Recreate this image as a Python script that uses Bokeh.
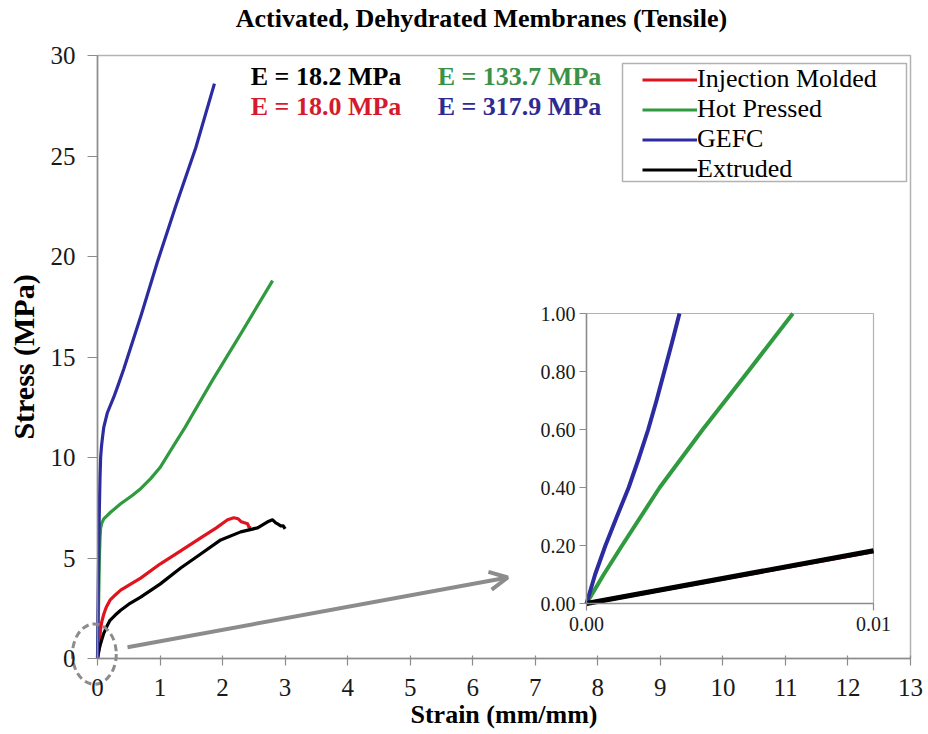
from bokeh.plotting import figure
from bokeh.models import (Range1d, LinearAxis, FixedTicker, NumeralTickFormatter, BoxAnnotation,
                          Label, Legend, LegendItem, Arrow, OpenHead)
from bokeh.embed import file_html
from bokeh.resources import INLINE

# ---------------- data ----------------
x_ticks = list(range(0, 14))
y_ticks = [0, 5, 10, 15, 20, 25, 30]
inset_x_ticks = [0.0, 0.01]
inset_y_ticks = [0.0, 0.2, 0.4, 0.6, 0.8, 1.0]

series_names = ["Injection Molded", "Hot Pressed", "GEFC", "Extruded"]

inj_x = [0, 0.01, 0.02, 0.03, 0.05, 0.07, 0.1, 0.14, 0.2, 0.28, 0.37, 0.69, 1.0, 1.33, 1.65, 1.9, 2.08, 2.18, 2.25, 2.3, 2.35, 2.4, 2.42, 2.45]
inj_y = [0, 0.2, 0.45, 0.8, 1.5, 1.85, 2.2, 2.55, 2.9, 3.15, 3.4, 4.0, 4.7, 5.35, 6.0, 6.5, 6.9, 7.0, 6.95, 6.8, 6.75, 6.7, 6.55, 6.5]

hot_x = [0, 0.005, 0.01, 0.02, 0.03, 0.04, 0.05, 0.07, 0.1, 0.15, 0.2, 0.37, 0.55, 0.69, 0.85, 1.0, 1.2, 1.4, 1.83, 2.3, 2.8]
hot_y = [0, 0.7, 1.4, 3.2, 5.0, 6.0, 6.5, 6.75, 6.95, 7.1, 7.25, 7.7, 8.1, 8.45, 8.95, 9.5, 10.5, 11.5, 13.8, 16.2, 18.8]

gefc_x = [0, 0.003, 0.006, 0.01, 0.02, 0.03, 0.04, 0.05, 0.065, 0.08, 0.1, 0.155, 0.2, 0.26, 0.33, 0.42, 0.7, 0.955, 1.25, 1.57, 1.87]
gefc_y = [0, 0.9, 1.9, 3.0, 5.5, 7.5, 9.0, 10.0, 10.6, 11.0, 11.5, 12.2, 12.55, 13.0, 13.6, 14.4, 17.1, 19.7, 22.5, 25.4, 28.6]

ext_x = [0, 0.01, 0.03, 0.05, 0.1, 0.15, 0.2, 0.28, 0.37, 0.5, 0.69, 1.0, 1.33, 1.65, 1.97, 2.29, 2.56, 2.72, 2.8, 2.85, 2.88, 2.93, 2.97, 3.0]
ext_y = [0, 0.18, 0.5, 0.75, 1.25, 1.6, 1.9, 2.15, 2.4, 2.7, 3.05, 3.7, 4.5, 5.2, 5.9, 6.3, 6.5, 6.8, 6.9, 6.75, 6.7, 6.6, 6.6, 6.45]

# inset (zoom on the origin)
inj_in_x = [0, 0.01]
inj_in_y = [0, 0.18]
hot_in_x = [0, 0.0006, 0.00124, 0.00255, 0.00405, 0.00563, 0.00719]
hot_in_y = [0, 0.1, 0.2, 0.4, 0.6, 0.8, 1.0]
gefc_in_x = [0, 0.0003, 0.00066, 0.00106, 0.00147, 0.00182, 0.00215, 0.00244, 0.00271, 0.00298, 0.00324]
gefc_in_y = [0, 0.1, 0.2, 0.3, 0.4, 0.5, 0.6, 0.7, 0.8, 0.9, 1.0]
ext_in_x = [0, 0.01]
ext_in_y = [0, 0.182]

modulus_texts = ["E =  18.2 MPa", "E =  18.0 MPa", "E =  133.7 MPa", "E =  317.9 MPa"]
modulus_x = [2.45, 2.45, 5.44, 5.44]
modulus_y = [28.95, 27.45, 28.95, 27.45]

ellipse_x, ellipse_y, ellipse_w, ellipse_h = [-0.05], [0.22], [0.70], [3.0]
arrow_start = (0.48, 0.56)
arrow_end = (6.56, 4.03)

title_text = "Activated, Dehydrated Membranes (Tensile)"

# ---------------- styles ----------------
RED, GREEN, BLUE, BLACK = "#e0141f", "#2f9a3e", "#2c2ca0", "#000000"
TXT_RED, TXT_GREEN, TXT_BLUE = "#d61a2e", "#3a9148", "#2e2a8f"
GRAY = "#8c8c8c"
SERIF = "Liberation Serif"

W, H = 928, 734
# pixel geometry of the main axes box, the inset box, legend box, title centre
AX_L, AX_R, AX_T, AX_B = 97, 910, 55, 658
IN_L, IN_R, IN_T, IN_B = 586, 873, 313, 603
LEG_L, LEG_R, LEG_T, LEG_B = 622, 906, 63, 181
TITLE_CX, TITLE_CY = 481, 18
X_MAX, Y_MAX = 13, 30
IX_MAX, IY_MAX = 0.01, 1.0

sx = (AX_R - AX_L) / X_MAX
sy = (AX_B - AX_T) / Y_MAX
x_range = Range1d(-AX_L / sx, X_MAX + (W - AX_R) / sx)
y_range = Range1d(-(H - AX_B) / sy, Y_MAX + AX_T / sy)

isx = (IN_R - IN_L) / IX_MAX
isy = (IN_B - IN_T) / IY_MAX
ix_range = Range1d(-IN_L / isx, IX_MAX + (W - IN_R) / isx)
iy_range = Range1d(-(H - IN_B) / isy, IY_MAX + IN_T / isy)


def px_to_x(px):
    return (px - AX_L) / sx


def px_to_y(py):
    return Y_MAX - (py - AX_T) / sy


p = figure(width=W, height=H, x_range=x_range, y_range=y_range, title=None,
           output_backend="svg", toolbar_location=None,
           x_axis_location=None, y_axis_location=None, min_border=0,
           outline_line_color=None, background_fill_color="white", border_fill_color="white")
for g in p.grid:
    g.visible = False

p.extra_x_ranges = {"ix": ix_range}
p.extra_y_ranges = {"iy": iy_range}

# main plot box (top/right black; left/bottom are covered by the gray axes)
p.add_layout(BoxAnnotation(left=0, right=X_MAX, bottom=0, top=Y_MAX, fill_alpha=0,
                           line_color="black", line_width=1.5, level="underlay"))


def style_axis(ax, label_size, tick_out, tick_in, standoff, title_size="26px"):
    ax.axis_line_color = GRAY
    ax.axis_line_width = 1.5
    ax.major_tick_line_color = GRAY
    ax.major_tick_line_width = 1.2
    ax.major_tick_out = tick_out
    ax.major_tick_in = tick_in
    ax.minor_tick_line_color = None
    ax.major_label_text_font = SERIF
    ax.major_label_text_font_size = label_size
    ax.major_label_text_color = "#1a1a1a"
    ax.major_label_standoff = standoff
    ax.axis_label_text_font = SERIF
    ax.axis_label_text_font_style = "bold"
    ax.axis_label_text_font_size = title_size
    ax.axis_label_text_color = "black"


xaxis = LinearAxis(fixed_location=0, bounds=(0, X_MAX), ticker=FixedTicker(ticks=x_ticks),
                   axis_label="Strain (mm/mm)")
style_axis(xaxis, "25px", 7, 3, 13, "26px")
xaxis.axis_label_standoff = 1
p.add_layout(xaxis, "below")

yaxis = LinearAxis(fixed_location=0, bounds=(0, Y_MAX), ticker=FixedTicker(ticks=y_ticks),
                   axis_label="Stress (MPa)")
style_axis(yaxis, "25px", 10, 0, 12, "30px")
yaxis.axis_label_standoff = 8
p.add_layout(yaxis, "left")

# main curves
lw = 3.2
r_inj = p.line(inj_x, inj_y, line_color=RED, line_width=lw, line_join="round")
r_hot = p.line(hot_x, hot_y, line_color=GREEN, line_width=lw, line_join="round")
r_ext = p.line(ext_x, ext_y, line_color=BLACK, line_width=lw, line_join="round")
r_gefc = p.line(gefc_x, gefc_y, line_color=BLUE, line_width=lw, line_join="round")

# dashed ellipse around origin + arrow
p.ellipse(x=ellipse_x, y=ellipse_y, width=ellipse_w, height=ellipse_h, fill_color=None,
          line_color=GRAY, line_width=3, line_dash="7 4")
p.add_layout(Arrow(end=OpenHead(size=18, line_color=GRAY, line_width=4),
                   x_start=arrow_start[0], y_start=arrow_start[1],
                   x_end=arrow_end[0], y_end=arrow_end[1],
                   line_color=GRAY, line_width=4))

# inset
p.add_layout(BoxAnnotation(left=0, right=IX_MAX, bottom=0, top=IY_MAX, x_range_name="ix", y_range_name="iy",
                           fill_color="white", fill_alpha=1, line_color="black", line_width=1.2,
                           level="underlay"))
ixaxis = LinearAxis(x_range_name="ix", y_range_name="iy", fixed_location=0, bounds=(0, IX_MAX),
                    ticker=FixedTicker(ticks=inset_x_ticks), formatter=NumeralTickFormatter(format="0.00"))
style_axis(ixaxis, "20px", 7, 0, 6)
p.add_layout(ixaxis, "below")
iyaxis = LinearAxis(x_range_name="ix", y_range_name="iy", fixed_location=0, bounds=(0, IY_MAX),
                    ticker=FixedTicker(ticks=inset_y_ticks), formatter=NumeralTickFormatter(format="0.00"))
style_axis(iyaxis, "20px", 7, 0, 4)
p.add_layout(iyaxis, "left")

ilw = 4
p.line(inj_in_x, inj_in_y, line_color=RED, line_width=ilw, x_range_name="ix", y_range_name="iy")
p.line(hot_in_x, hot_in_y, line_color=GREEN, line_width=ilw, line_join="round", x_range_name="ix", y_range_name="iy")
p.line(gefc_in_x, gefc_in_y, line_color=BLUE, line_width=ilw, line_join="round", x_range_name="ix", y_range_name="iy")
p.line(ext_in_x, ext_in_y, line_color=BLACK, line_width=5, x_range_name="ix", y_range_name="iy")

# modulus annotations
for t, x, y, c in zip(modulus_texts, modulus_x, modulus_y, [BLACK, TXT_RED, TXT_GREEN, TXT_BLUE]):
    p.add_layout(Label(x=x, y=y, text=t, text_color=c, text_font=SERIF, text_font_style="bold",
                       text_font_size="26px", text_baseline="middle", text_align="left"))

# title
p.add_layout(Label(x=px_to_x(TITLE_CX), y=px_to_y(TITLE_CY), text=title_text, text_font=SERIF,
                   text_font_style="bold", text_font_size="26px", text_align="center",
                   text_baseline="middle", text_color="black"))

# legend frame + legend
p.add_layout(BoxAnnotation(left=px_to_x(LEG_L), right=px_to_x(LEG_R), top=px_to_y(LEG_T), bottom=px_to_y(LEG_B),
                           fill_color="white", fill_alpha=1, line_color="black", line_width=1.5))
legend = Legend(items=[LegendItem(label=series_names[0], renderers=[r_inj]),
                       LegendItem(label=series_names[1], renderers=[r_hot]),
                       LegendItem(label=series_names[2], renderers=[r_gefc]),
                       LegendItem(label=series_names[3], renderers=[r_ext])],
                location=(642, H - LEG_B - 3), orientation="vertical",
                border_line_color=None, background_fill_alpha=0,
                padding=0, spacing=0, margin=0,
                glyph_width=55, glyph_height=29, label_height=29, label_standoff=0,
                label_text_font=SERIF, label_text_font_size="26px", label_text_color="black")
p.add_layout(legend)

open("out.html", "w").write(file_html(p, INLINE))
